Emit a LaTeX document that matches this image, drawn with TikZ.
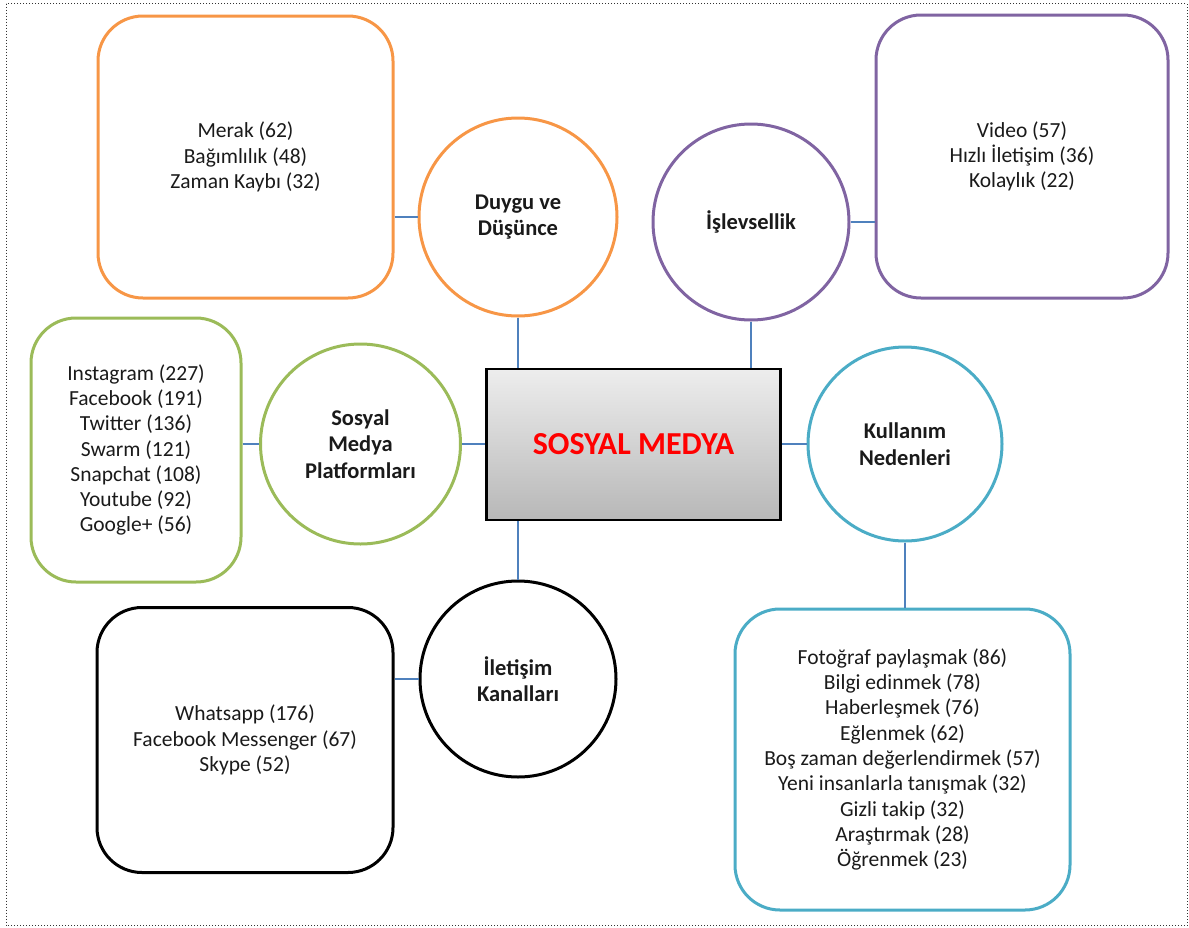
\documentclass[tikz,border=0pt]{standalone}
\usepackage{fontspec}
\setmainfont{Carlito}
\definecolor{oorange}{HTML}{F79646}
\definecolor{opurple}{HTML}{8064A2}
\definecolor{ogreen}{HTML}{9BBB59}
\definecolor{ocyan}{HTML}{4BACC6}
\definecolor{oblue}{HTML}{4F81BD}
\definecolor{txt}{HTML}{1A1A1A}
\tikzset{
  listbox/.style={draw, line width=3pt, rounded corners=45pt, align=center, inner sep=0pt,
     text=txt, font=\fontsize{21.5}{25.3}\selectfont},
  topic/.style={draw, circle, line width=3pt, align=center, inner sep=0pt,
     text=txt, font=\fontsize{22.5}{26.5}\selectfont\bfseries},
  link/.style={draw=oblue, line width=1.5pt},
}
\begin{document}
\begin{tikzpicture}[x=1pt,y=-1pt]
\useasboundingbox (0,0) rectangle (1189,927);
\draw[black!80, dotted, line width=1pt] (6,3.5) rectangle (1187,925.5);

% list boxes
\node[listbox, draw=oorange, minimum width=295pt, minimum height=282pt] (orect) at (245.5,157)
  {Merak (62)\\Bağımlılık (48)\\Zaman Kaybı (32)};
\node[listbox, draw=opurple, minimum width=292pt, minimum height=283pt] (prect) at (1022,156.5)
  {Video (57)\\Hızlı İletişim (36)\\Kolaylık (22)};
\node[listbox, draw=ogreen, minimum width=210pt, minimum height=264pt] (grect) at (136,450)
  {Instagram (227)\\Facebook (191)\\Twitter (136)\\Swarm (121)\\Snapchat (108)\\Youtube (92)\\Google+ (56)};
\node[listbox, draw=black, minimum width=296pt, minimum height=265pt] (krect) at (245,740)
  {Whatsapp (176)\\Facebook Messenger (67)\\Skype (52)};
\node[listbox, draw=ocyan, minimum width=335pt, minimum height=301pt] (crect) at (902.5,759.5)
  {Fotoğraf paylaşmak (86)\\Bilgi edinmek (78)\\Haberleşmek (76)\\Eğlenmek (62)\\Boş zaman değerlendirmek (57)\\Yeni insanlarla tanışmak (32)\\Gizli takip (32)\\Araştırmak (28)\\Öğrenmek (23)};

% topic circles
\node[topic, draw=oorange, minimum size=198pt] (ocirc) at (518,217) {Duygu ve\\Düşünce};
\node[topic, draw=opurple, minimum size=196pt] (pcirc) at (751,222) {İşlevsellik};
\node[topic, draw=ogreen, minimum size=200pt] (gcirc) at (360.5,444) {Sosyal\\Medya\\Platformları};
\node[topic, draw=ocyan, minimum size=194pt] (ccirc) at (905,444) {Kullanım\\Nedenleri};
\node[topic, draw=black, minimum size=196pt] (kcirc) at (518,679) {İletişim\\Kanalları};

% centre box
\node[draw=black, line width=2.5pt, top color=black!7, bottom color=black!28,
      minimum width=294pt, minimum height=151pt, inner sep=0pt,
      text=red, font=\fontsize{32}{36}\selectfont\bfseries] (box) at (633.5,444.5) {SOSYAL MEDYA};

% connectors
\draw[link] (orect.east |- ocirc.west) -- (ocirc.west);
\draw[link] (prect.west |- pcirc.east) -- (pcirc.east);
\draw[link] (grect.east |- gcirc.west) -- (gcirc.west);
\draw[link] (krect.east |- kcirc.west) -- (kcirc.west);
\draw[link] (ocirc.south) -- (ocirc.south |- box.north);
\draw[link] (pcirc.south) -- (pcirc.south |- box.north);
\draw[link] (gcirc.east) -- (gcirc.east -| box.west);
\draw[link] (box.east |- ccirc.west) -- (ccirc.west);
\draw[link] (kcirc.north) -- (kcirc.north |- box.south);
\draw[link] (ccirc.south) -- (ccirc.south |- crect.north);
\end{tikzpicture}
\end{document}
